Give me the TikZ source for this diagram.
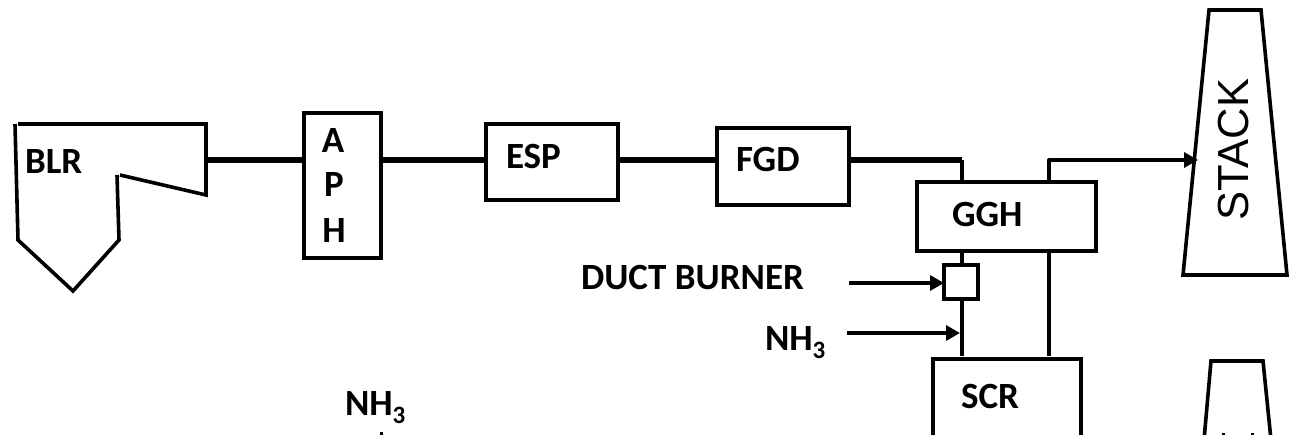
\documentclass[tikz,border=0pt]{standalone}
\usepackage{fontspec}
\setmainfont{Carlito}
\newfontfamily\stackfont{Liberation Sans}
\usetikzlibrary{arrows.meta}
\newcommand{\subthree}{\raisebox{-8pt}{\fontsize{25}{25}\selectfont 3}}
\tikzset{
  unitbox/.style={draw=black,line width=3.6pt,inner sep=0pt,outer sep=0pt,fill=white},
  lbl/.style={anchor=base west,inner sep=0pt,outer sep=0pt,font=\fontsize{37}{39}\selectfont\bfseries},
  pipe/.style={draw=black,line width=5.4pt},
  thinpipe/.style={draw=black,line width=3.8pt},
  feed/.style={draw=black,line width=3.4pt,-{Triangle[length=14pt,width=15pt]}},
  outline/.style={draw=black,line width=3.6pt,line join=miter},
}
\begin{document}
\begin{tikzpicture}[x=1pt,y=-1pt]
\clip (0,0) rectangle (1293,435);
\useasboundingbox (0,0) rectangle (1293,435);
% boiler outline
\draw[outline] (15,124) -- (18,240) -- (73,291) -- (119,240) -- (117,175);
\draw[outline] (120,175) -- (206,195) -- (206,124) -- (18,124);
\coordinate (blrout) at (204,160);
% stacks
\draw[outline] (1209,10) -- (1261,10) -- (1287,275) -- (1183,275) -- cycle;
\coordinate (stackin) at (1198,160);
\draw[outline] (1204,440) -- (1211,361) -- (1263,361) -- (1271,440);
% boxes
\node[unitbox,minimum width=77pt,minimum height=145pt] (aph) at (342.5,185.5) {};
\node[unitbox,minimum width=132pt,minimum height=76pt] (esp) at (552,162) {};
\node[unitbox,minimum width=132pt,minimum height=77pt] (fgd) at (783,166.5) {};
\node[unitbox,minimum width=179pt,minimum height=69pt] (ggh) at (1006.5,216.5) {};
\node[unitbox,minimum width=34pt,minimum height=34pt] (burner) at (961,282) {};
\node[unitbox,minimum width=148pt,minimum height=110pt] (scr) at (1007,414) {};
% named junctions
\coordinate (gghinl) at (962,182);
\coordinate (gghinc) at (962,160);
\coordinate (gghoutl) at (1049,182);
\coordinate (gghoutc) at (1049,160);
\coordinate (gghbl) at (962,251);
\coordinate (gghbr) at (1049,251);
\coordinate (scrtl) at (962,356);
\coordinate (scrtr) at (1049,356);
\coordinate (burnt) at (962,265);
\coordinate (burnb) at (962,299);
\coordinate (nhj) at (960,333);
\coordinate (dbs) at (849,283);
\coordinate (nhs) at (847,333);
% main flue line
\draw[pipe] (blrout) -- (aph.west |- blrout);
\draw[pipe] (aph.east |- blrout) -- (esp.west |- blrout);
\draw[pipe] (esp.east |- blrout) -- (fgd.west |- blrout);
\draw[pipe,line join=round] (fgd.east |- blrout) -- (gghinc);
\draw[thinpipe,line join=round] (gghinc) -- (gghinl);
\draw[feed,line join=round] (gghoutl) -- (gghoutc) -- (stackin);
\draw[thinpipe] (gghbl) -- (burnt);
\draw[thinpipe] (burnb) -- (scrtl);
\draw[thinpipe] (gghbr) -- (scrtr);
\draw[feed] (dbs) -- (burner.west |- dbs);
\draw[feed] (nhs) -- (nhj);
% labels
\node[lbl] (tblr) at (25,174) {BLR};
\node[lbl,anchor=base] (ta) at (333,153) {A};
\node[lbl,anchor=base] (tp) at (334,197) {P};
\node[lbl,anchor=base] (th) at (334,243) {H};
\node[lbl] (tesp) at (506,169) {ESP};
\node[lbl] (tfgd) at (736,172) {FGD};
\node[lbl] (tggh) at (952,227) {GGH};
\node[lbl] (tscr) at (961,409) {SCR};
\node[lbl] (tdb) at (581,290) {DUCT BURNER};
\node[lbl] (tnh) at (765,351) {NH\subthree};
\node[lbl] (tnhb) at (345,415) {NH\subthree};
\node[inner sep=0pt,rotate=90,font=\fontsize{43.5}{45}\selectfont\stackfont] (tstack) at (1234,149.5) {STACK};
% clipped remnants at the lower edge
\fill (379.5,432) rectangle (382.5,435);
\fill (1222,433) rectangle (1225,435);
\fill (1251,433) rectangle (1254,435);
\end{tikzpicture}
\end{document}
